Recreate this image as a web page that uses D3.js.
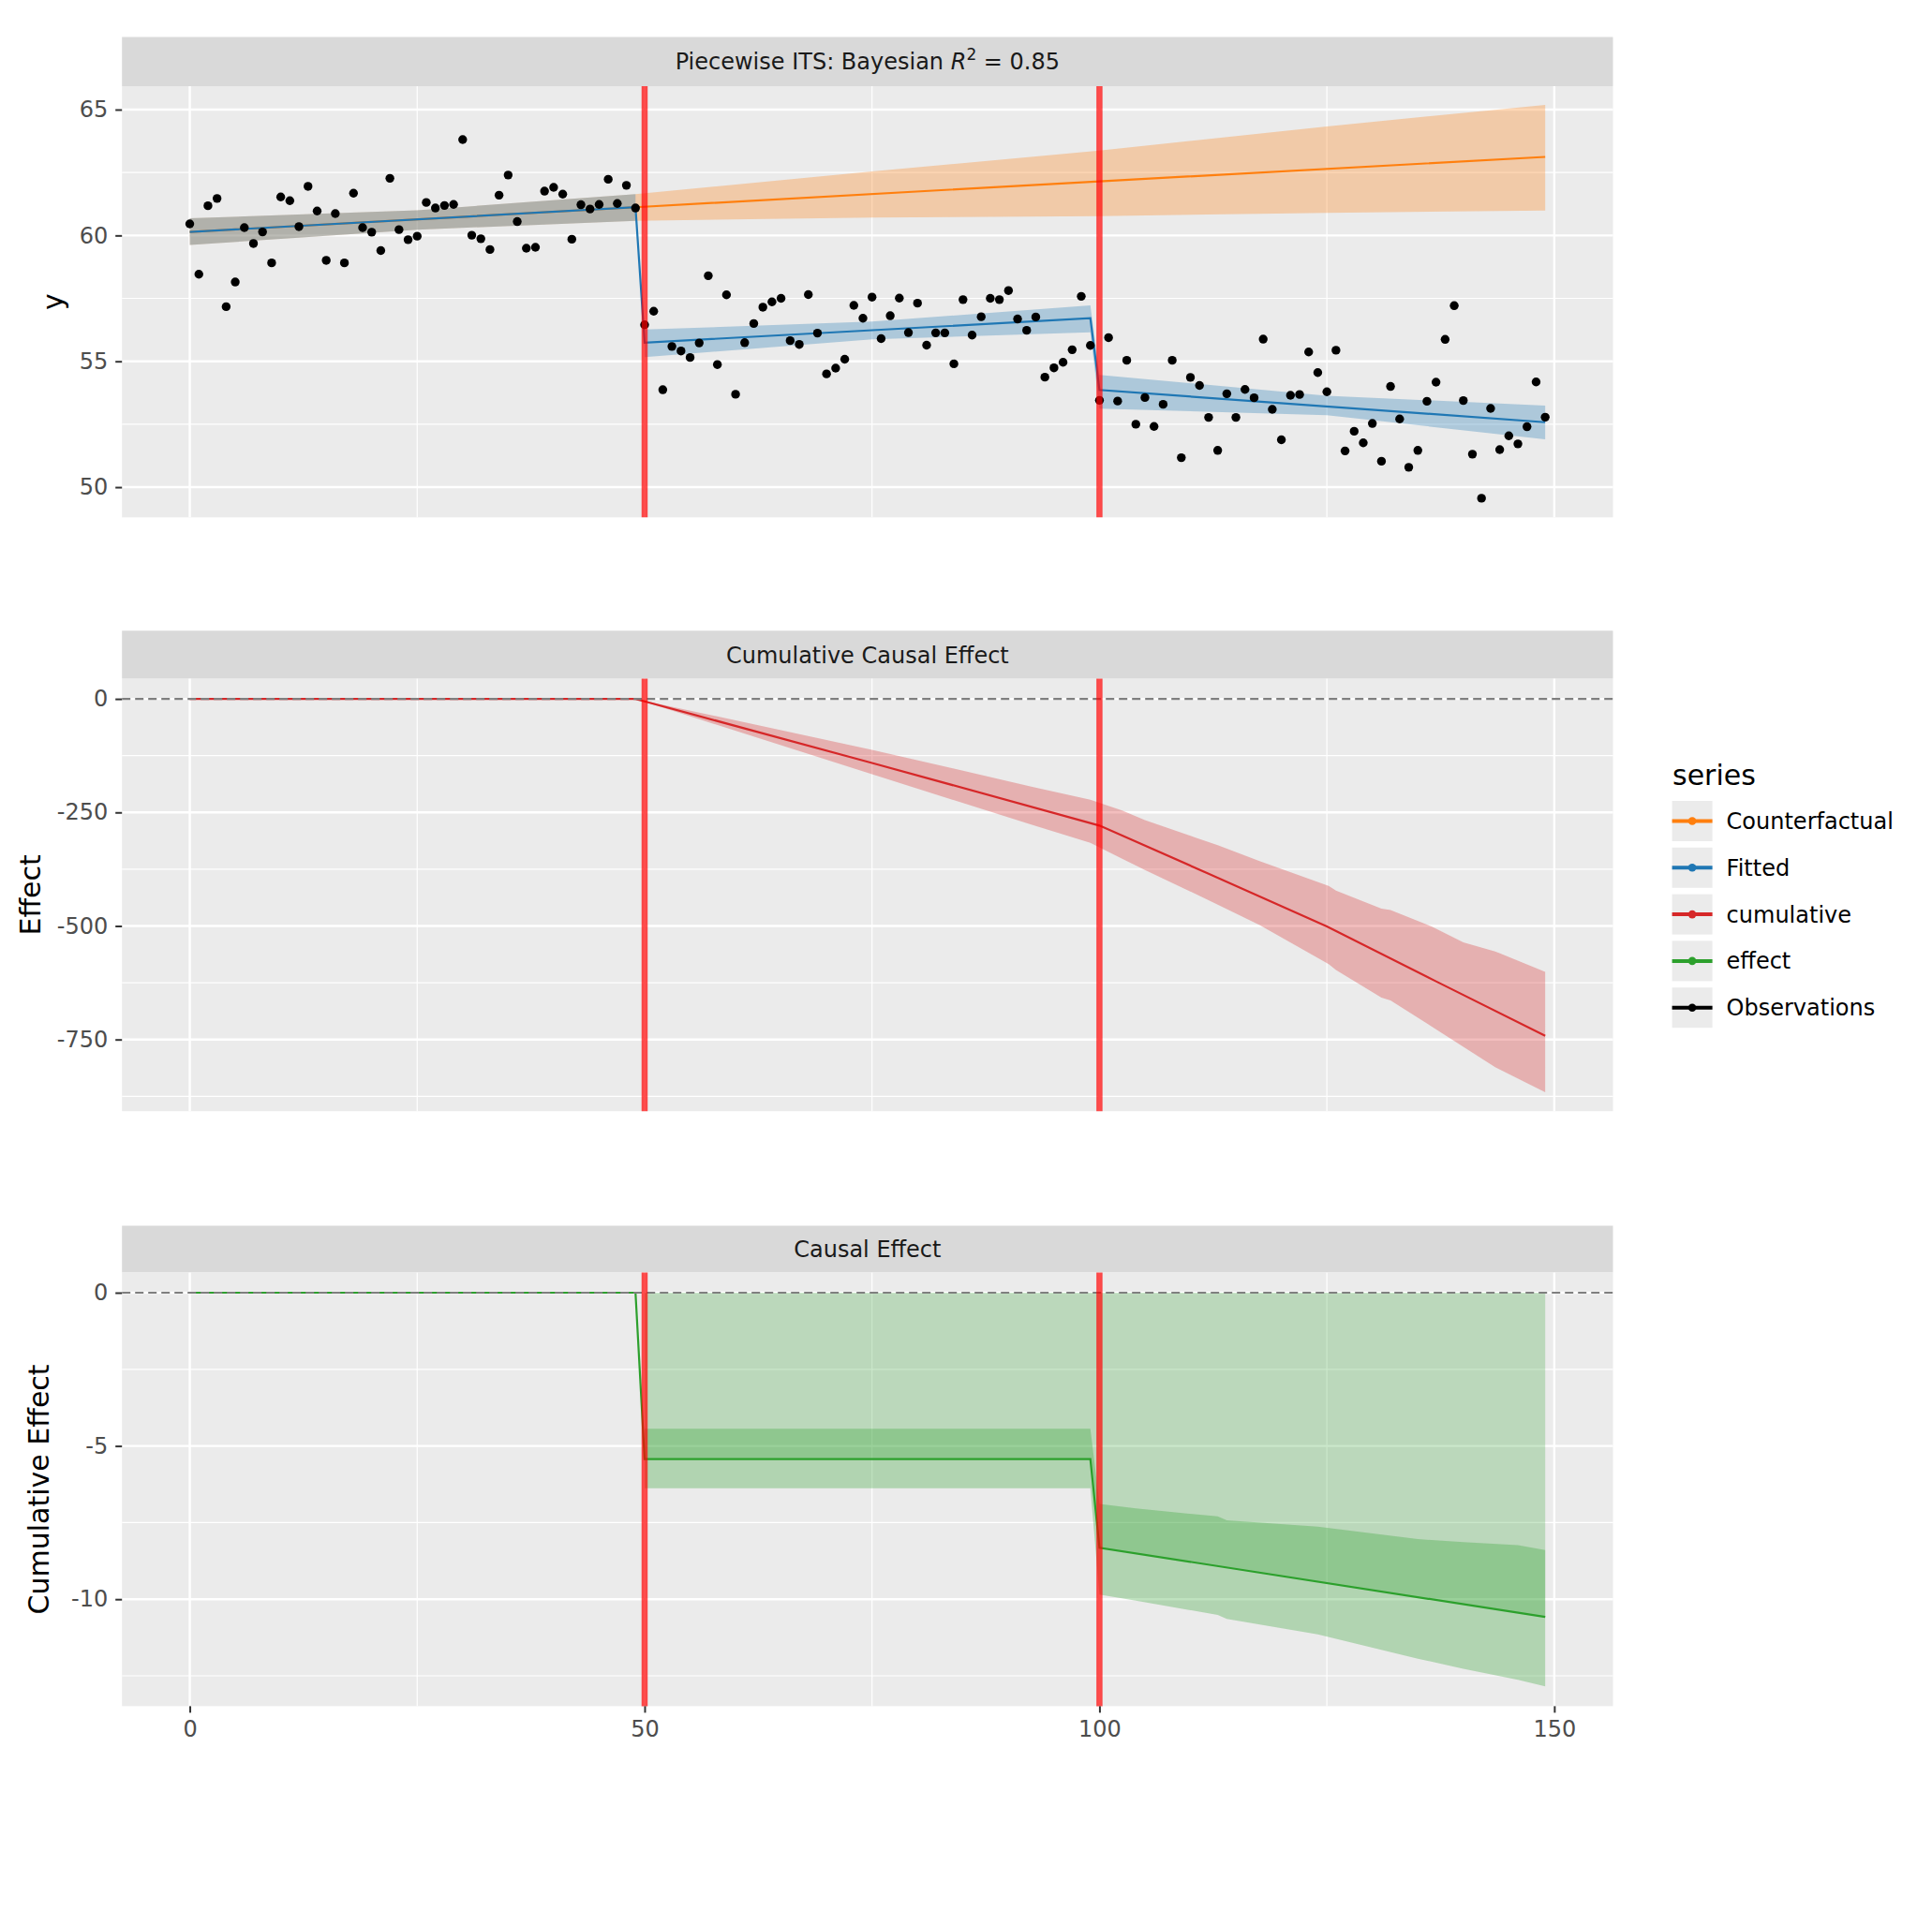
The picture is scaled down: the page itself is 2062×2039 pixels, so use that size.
<!DOCTYPE html>
<html>
<head>
<meta charset="utf-8">
<script src="https://cdn.jsdelivr.net/npm/d3@7"></script>
<style>
body { margin: 0; background: #fff; }
text { font-family: "DejaVu Sans", sans-serif; }
</style>
</head>
<body>
<script>
// ---- data ----
// observations, one per time step (t = 0..149)
let obsY = [
    60.46, 58.46, 61.18, 61.47, 57.17, 58.15, 60.31, 59.68, 60.14, 58.91,
    61.53, 61.38, 60.35, 61.95, 60.97, 59.01, 60.87, 58.91, 61.68, 60.31,
    60.13, 59.40, 62.27, 60.23, 59.83, 59.97, 61.31, 61.09, 61.19, 61.23,
    63.81, 60.01, 59.87, 59.44, 61.60, 62.40, 60.55, 59.49, 59.53, 61.76,
    61.91, 61.64, 59.85, 61.22, 61.05, 61.23, 62.23, 61.27, 61.99, 61.09,
    56.45, 56.99, 53.87, 55.59, 55.41, 55.15, 55.73, 58.40, 54.87, 57.64,
    53.69, 55.74, 56.50, 57.15, 57.36, 57.50, 55.82, 55.67, 57.65, 56.12,
    54.50, 54.73, 55.08, 57.22, 56.71, 57.55, 55.90, 56.81, 57.51, 56.14,
    57.31, 55.64, 56.13, 56.13, 54.90, 57.45, 56.04, 56.77, 57.50, 57.45,
    57.81, 56.68, 56.23, 56.76, 54.37, 54.74, 54.96, 55.46, 57.58, 55.63,
    53.45, 55.94, 53.42, 55.04, 52.50, 53.56, 52.41, 53.29, 55.04, 51.17,
    54.36, 54.04, 52.77, 51.46, 53.71, 52.77, 53.88, 53.55, 55.88, 53.09,
    51.88, 53.65, 53.68, 55.37, 54.55, 53.79, 55.44, 51.44, 52.22, 51.76,
    52.53, 51.03, 54.00, 52.71, 50.79, 51.46, 53.41, 54.17, 55.87, 57.21,
    53.44, 51.31, 49.56, 53.13, 51.49, 52.04, 51.72, 52.40, 54.18, 52.78
];

// fitted mean (piecewise)
let fittedX = [0, 49, 50, 99, 100, 149];
let fittedY = [60.14, 61.12, 55.74, 56.71, 53.86, 52.58];
// fitted bands [t, low, high]
let fittedPreBand = [[0, 59.62, 60.68], [25, 60.23, 61.00], [49, 60.58, 61.64]];
let fittedPostBand = [
    [50, 55.17, 56.26], [75, 55.87, 56.58], [99, 56.15, 57.22],
    [100, 53.12, 54.46], [125, 52.86, 53.63], [149, 51.90, 53.24]
];

// counterfactual
let cfX = [0, 49, 100, 149];
let cfY = [60.14, 61.12, 62.15, 63.12];
let cfBand = [
    [0, 59.62, 60.68], [25, 60.23, 61.00], [49, 60.58, 61.64], [75, 60.71, 62.54],
    [100, 60.77, 63.37], [125, 60.90, 64.33], [149, 60.99, 65.19]
];

// cumulative effect
let cumX = [0, 49, 50, 75, 100, 112, 125, 137, 149];
let cumY = [0, 0, -5.4, -141, -279, -385, -501, -622, -742];
let cumBand = [
    [49, 0, 0], [50, -6.4, -4.4], [75, -166, -112], [92.5, -277, -193],
    [99, -317, -222], [102.5, -352, -246], [105, -377, -267], [110.5, -429, -305],
    [113, -453, -322], [117.6, -498, -357], [125.2, -584, -412], [126, -597, -422],
    [131, -658, -462], [132, -664, -465], [136.5, -721, -501], [140, -766, -536],
    [143.5, -811, -556], [149, -866, -601]
];

// causal effect
let effX = [0, 49, 50, 99, 100, 149];
let effY = [0, 0, -5.43, -5.43, -8.32, -10.58];
let effBand = [
    [50, -6.38, -4.44], [99, -6.38, -4.44], [100, -9.85, -6.89], [104, -10.05, -7.04],
    [113, -10.51, -7.30], [114, -10.64, -7.43], [124, -11.15, -7.63], [135, -11.94, -8.04],
    [140, -12.27, -8.14], [146, -12.63, -8.24], [149, -12.84, -8.40]
];

let interventions = [50, 100];

// axis ticks
let xTicks = [0, 50, 100, 150];
let xMinor = [25, 75, 125];
let yTicksTop = [50, 55, 60, 65];
let yMinorTop = [52.5, 57.5, 62.5];
let yTicksCum = [-750, -500, -250, 0];
let yMinorCum = [-875, -625, -375, -125];
let yTicksEff = [-10, -5, 0];
let yMinorEff = [-12.5, -7.5, -2.5];

let legendLabels = ['Counterfactual', 'Fitted', 'cumulative', 'effect', 'Observations'];
let legendColors = ['#ff7f0e', '#1f77b4', '#d62728', '#2ca02c', '#000000'];

// ---- layout ----
let width = 2062,
    height = 2039;
let plotLeft = 130.2,
    plotRight = 1721.5;

let svg = d3.select('body').append('svg')
    .attr('width', width)
    .attr('height', height);

svg.append('rect')
    .attr('width', width)
    .attr('height', height)
    .attr('fill', '#fff');

let x = d3.scaleLinear()
    .domain([-7.45, 156.45])
    .range([plotLeft, plotRight]);

let bandArea = y => d3.area()
    .x(d => x(d[0]))
    .y0(d => y(d[1]))
    .y1(d => y(d[2]));

let lineGen = y => d3.line()
    .x(d => x(d[0]))
    .y(d => y(d[1]));

// draws strip, background, grid and the y axis of one facet
function setupPanel(p) {
    let y = d3.scaleLinear()
        .domain(p.domain)
        .range([p.bottom, p.top]);

    let g = svg.append('g');

    g.append('rect')
        .attr('x', plotLeft)
        .attr('y', p.stripTop)
        .attr('width', plotRight - plotLeft)
        .attr('height', p.top - p.stripTop)
        .attr('fill', '#d9d9d9');

    g.append('rect')
        .attr('x', plotLeft)
        .attr('y', p.top)
        .attr('width', plotRight - plotLeft)
        .attr('height', p.bottom - p.top)
        .attr('fill', '#ebebeb');

    // minor grid
    g.selectAll('.vminor').data(xMinor).enter().append('line')
        .attr('x1', d => x(d)).attr('x2', d => x(d))
        .attr('y1', p.top).attr('y2', p.bottom)
        .attr('stroke', '#fff').attr('stroke-width', 1.2);
    g.selectAll('.hminor').data(p.minor).enter().append('line')
        .attr('x1', plotLeft).attr('x2', plotRight)
        .attr('y1', d => y(d)).attr('y2', d => y(d))
        .attr('stroke', '#fff').attr('stroke-width', 1.2);
    // major grid
    g.selectAll('.vmajor').data(xTicks).enter().append('line')
        .attr('x1', d => x(d)).attr('x2', d => x(d))
        .attr('y1', p.top).attr('y2', p.bottom)
        .attr('stroke', '#fff').attr('stroke-width', 2.4);
    g.selectAll('.hmajor').data(p.major).enter().append('line')
        .attr('x1', plotLeft).attr('x2', plotRight)
        .attr('y1', d => y(d)).attr('y2', d => y(d))
        .attr('stroke', '#fff').attr('stroke-width', 2.4);

    // strip label
    let st = g.append('text')
        .attr('x', (plotLeft + plotRight) / 2)
        .attr('y', (p.stripTop + p.top) / 2)
        .attr('dy', '0.36em')
        .attr('text-anchor', 'middle')
        .attr('fill', '#1a1a1a')
        .style('font-size', '24px');
    p.strip(st);

    // y axis
    let ax = g.append('g')
        .attr('transform', 'translate(' + plotLeft + ',0)')
        .call(d3.axisLeft(y).tickValues(p.major).tickSize(7).tickPadding(8).tickFormat(d => String(d)));
    ax.select('.domain').remove();
    ax.selectAll('line').attr('stroke', '#333').attr('stroke-width', 2);
    ax.selectAll('text')
        .attr('fill', '#4d4d4d')
        .style('font-size', '24px')
        .style('font-family', '"DejaVu Sans", sans-serif');

    // axis title
    g.append('text')
        .attr('transform', 'translate(' + p.titleX + ',' + (p.top + p.bottom) / 2 + ') rotate(-90)')
        .attr('text-anchor', 'middle')
        .attr('fill', '#000')
        .style('font-size', '30px')
        .text(p.title);

    return {g: g, y: y, p: p};
}

function drawInterventions(panel) {
    panel.g.selectAll('.vline').data(interventions).enter().append('line')
        .attr('x1', d => x(d)).attr('x2', d => x(d))
        .attr('y1', panel.p.top).attr('y2', panel.p.bottom)
        .attr('stroke', '#ff0000')
        .attr('stroke-opacity', 0.7)
        .attr('stroke-width', 6.5);
}

function drawZero(panel) {
    panel.g.append('line')
        .attr('x1', plotLeft).attr('x2', plotRight)
        .attr('y1', panel.y(0)).attr('y2', panel.y(0))
        .attr('stroke', '#7f7f7f')
        .attr('stroke-width', 2.2)
        .attr('stroke-dasharray', '9,5');
}

// ---- top panel: fitted vs counterfactual ----
let fitPanel = setupPanel({
    stripTop: 39.5, top: 92, bottom: 552.3,
    domain: [48.8, 65.93], major: yTicksTop, minor: yMinorTop,
    title: 'y', titleX: 67,
    strip: t => {
        t.append('tspan').text('Piecewise ITS: Bayesian ');
        t.append('tspan').style('font-style', 'italic').text('R');
        t.append('tspan').attr('dy', -10).style('font-size', '17px').text('2');
        t.append('tspan').attr('dy', 10).text(' = 0.85');
    }
});

fitPanel.g.append('path')
    .attr('d', bandArea(fitPanel.y)(cfBand))
    .attr('fill', '#ff7f0e').attr('fill-opacity', 0.3);
fitPanel.g.append('path')
    .attr('d', bandArea(fitPanel.y)(fittedPreBand))
    .attr('fill', '#1f77b4').attr('fill-opacity', 0.3);
fitPanel.g.append('path')
    .attr('d', bandArea(fitPanel.y)(fittedPostBand))
    .attr('fill', '#1f77b4').attr('fill-opacity', 0.3);
fitPanel.g.append('path')
    .attr('d', lineGen(fitPanel.y)(d3.zip(cfX, cfY)))
    .attr('fill', 'none').attr('stroke', '#ff7f0e').attr('stroke-width', 2.2);
fitPanel.g.append('path')
    .attr('d', lineGen(fitPanel.y)(d3.zip(fittedX, fittedY)))
    .attr('fill', 'none').attr('stroke', '#1f77b4').attr('stroke-width', 2.2);

fitPanel.g.selectAll('.obs')
    .data(obsY)
    .enter().append('circle')
    .classed('obs', true)
    .attr('cx', (d, i) => x(i))
    .attr('cy', d => fitPanel.y(d))
    .attr('r', 4.7)
    .attr('fill', '#000');

drawInterventions(fitPanel);

// ---- middle panel: cumulative effect ----
let cumPanel = setupPanel({
    stripTop: 673.3, top: 724.6, bottom: 1186.2,
    domain: [-907.8, 44.3], major: yTicksCum, minor: yMinorCum,
    title: 'Effect', titleX: 43,
    strip: t => t.text('Cumulative Causal Effect')
});

cumPanel.g.append('path')
    .attr('d', bandArea(cumPanel.y)(cumBand))
    .attr('fill', '#d62728').attr('fill-opacity', 0.3);
cumPanel.g.append('path')
    .attr('d', lineGen(cumPanel.y)(d3.zip(cumX, cumY)))
    .attr('fill', 'none').attr('stroke', '#d62728').attr('stroke-width', 2.2);
drawZero(cumPanel);
drawInterventions(cumPanel);

// ---- bottom panel: causal effect ----
let effPanel = setupPanel({
    stripTop: 1308.5, top: 1358.5, bottom: 1821.4,
    domain: [-13.49, 0.657], major: yTicksEff, minor: yMinorEff,
    title: 'Cumulative Effect', titleX: 52,
    strip: t => t.text('Causal Effect')
});

let effPost = d3.zip(effX, effY).filter(d => d[0] >= interventions[0]);
effPanel.g.append('path')
    .attr('d', d3.area().x(d => x(d[0])).y0(effPanel.y(0)).y1(d => effPanel.y(d[1]))(effPost))
    .attr('fill', '#2ca02c').attr('fill-opacity', 0.25);
effPanel.g.append('path')
    .attr('d', bandArea(effPanel.y)(effBand))
    .attr('fill', '#2ca02c').attr('fill-opacity', 0.3);
effPanel.g.append('path')
    .attr('d', lineGen(effPanel.y)(d3.zip(effX, effY)))
    .attr('fill', 'none').attr('stroke', '#2ca02c').attr('stroke-width', 2.2);
drawZero(effPanel);
drawInterventions(effPanel);

// shared x axis under the last facet
let xa = svg.append('g')
    .attr('transform', 'translate(0,' + effPanel.p.bottom + ')')
    .call(d3.axisBottom(x).tickValues(xTicks).tickSize(7).tickPadding(9).tickFormat(d => String(d)));
xa.select('.domain').remove();
xa.selectAll('line').attr('stroke', '#333').attr('stroke-width', 2);
xa.selectAll('text')
    .attr('fill', '#4d4d4d')
    .style('font-size', '24px')
    .style('font-family', '"DejaVu Sans", sans-serif');

// ---- legend ----
let legend = svg.append('g');
legend.append('text')
    .attr('x', 1785)
    .attr('y', 838)
    .style('font-size', '30px')
    .attr('fill', '#000')
    .text('series');

let keyTop = 855,
    keyStep = 49.8,
    keySize = 43;
let rows = legend.selectAll('.key')
    .data(legendLabels)
    .enter().append('g')
    .attr('transform', (d, i) => 'translate(1784.6,' + (keyTop + i * keyStep) + ')');
rows.append('rect')
    .attr('width', keySize).attr('height', keySize)
    .attr('fill', '#ebebeb');
rows.append('line')
    .attr('x1', 0).attr('x2', keySize)
    .attr('y1', keySize / 2).attr('y2', keySize / 2)
    .attr('stroke', (d, i) => legendColors[i])
    .attr('stroke-width', 4);
rows.append('circle')
    .attr('cx', keySize / 2).attr('cy', keySize / 2)
    .attr('r', 4.3)
    .attr('fill', (d, i) => legendColors[i]);
rows.append('text')
    .attr('x', 58)
    .attr('y', keySize / 2 + 8.5)
    .style('font-size', '24px')
    .attr('fill', '#000')
    .text(d => d);
</script>
</body>
</html>
